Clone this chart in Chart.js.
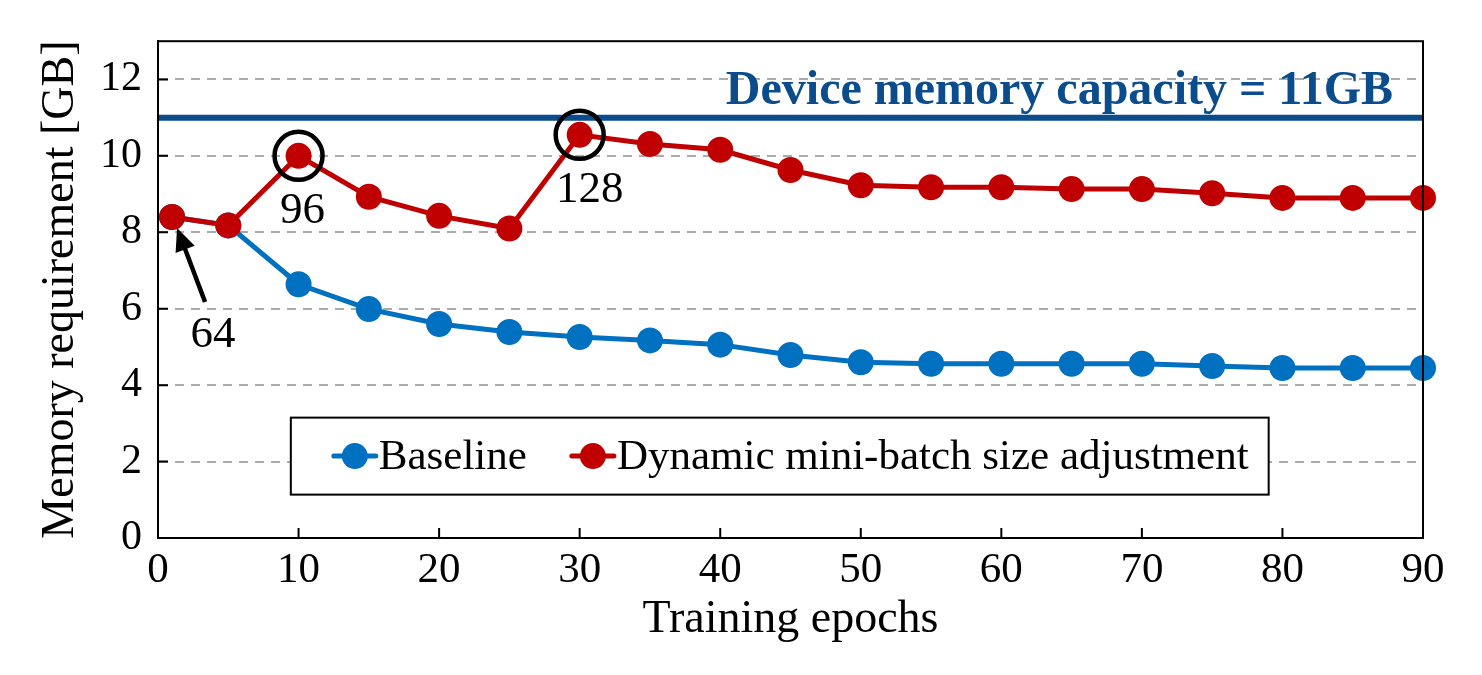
<!DOCTYPE html>
<html>
<head>
<meta charset="utf-8">
<script src="https://cdn.jsdelivr.net/npm/chart.js@4.4.1/dist/chart.umd.min.js"></script>
<style>
  html, body { margin: 0; padding: 0; background: #fff; }
  #wrap { width: 1482px; height: 675px; }
</style>
</head>
<body>
<div id="wrap"><canvas id="memChart" width="1482" height="675"></canvas></div>
<script>
// data
const epochs = [1, 5, 10, 15, 20, 25, 30, 35, 40, 45, 50, 55, 60, 65, 70, 75, 80, 85, 90];
const baseline = [8.4, 8.18, 6.64, 5.99, 5.6, 5.39, 5.26, 5.17, 5.06, 4.79, 4.6, 4.56, 4.56, 4.56, 4.56, 4.5, 4.45, 4.45, 4.45];
const dynamicMb = [8.4, 8.18, 10.0, 8.93, 8.43, 8.1, 10.55, 10.31, 10.16, 9.63, 9.23, 9.18, 9.18, 9.13, 9.13, 9.02, 8.9, 8.9, 8.9];
const capacityGB = 11;
const capacityLabel = 'Device memory capacity = 11GB';
const xTicks = [0, 10, 20, 30, 40, 50, 60, 70, 80, 90];
const yTicks = [0, 2, 4, 6, 8, 10, 12];
const seriesNames = ['Baseline', 'Dynamic mini-batch size adjustment'];
// batch-size callouts: epoch, value, label, kind
const callouts = [
  { x: 10, y: 10.0, text: '96', kind: 'ring' },
  { x: 30, y: 10.55, text: '128', kind: 'ring' },
  { x: 1, y: 8.4, text: '64', kind: 'arrow' }
];

const FONT = '"Liberation Serif", "Times New Roman", serif';
const BLUE = '#0070c0';
const RED = '#c00000';
const NAVY = '#0b4d8c';

const toPts = (ys) => ys.map((v, i) => ({ x: epochs[i], y: v }));

const extras = {
  id: 'extras',
  beforeDraw(chart) {
    const c = chart.ctx;
    c.save();
    c.fillStyle = '#fff';
    c.fillRect(0, 0, chart.width, chart.height);
    c.restore();
  },
  afterDatasetsDraw(chart) {
    const c = chart.ctx;
    const xs = chart.scales.x, ys = chart.scales.y;
    const a = chart.chartArea;
    c.save();
    // capacity label
    c.fillStyle = NAVY;
    c.font = 'bold 48px ' + FONT;
    c.textAlign = 'right';
    c.textBaseline = 'alphabetic';
    c.fillText(capacityLabel, a.right - 30, ys.getPixelForValue(capacityGB) - 14);

    callouts.forEach(o => {
      const px = xs.getPixelForValue(o.x), py = ys.getPixelForValue(o.y);
      c.strokeStyle = '#000';
      c.fillStyle = '#000';
      c.font = '45px ' + FONT;
      c.textAlign = 'center';
      if (o.kind === 'ring') {
        c.lineWidth = 4.5;
        c.beginPath();
        c.arc(px, py, 24, 0, Math.PI * 2);
        c.stroke();
        c.fillText(o.text, px + (o.text.length > 2 ? 10 : 4), py + 67);
      } else {
        const tx = px + 5, ty = py + 11, sx = px + 33, sy = py + 85;
        c.lineWidth = 4.5;
        c.beginPath();
        c.moveTo(sx, sy);
        c.lineTo(tx + 5, ty + 13);
        c.stroke();
        const ang = Math.atan2(ty - sy, tx - sx);
        c.beginPath();
        c.moveTo(tx, ty);
        c.lineTo(tx - 25 * Math.cos(ang - 0.42), ty - 25 * Math.sin(ang - 0.42));
        c.lineTo(tx - 25 * Math.cos(ang + 0.42), ty - 25 * Math.sin(ang + 0.42));
        c.closePath();
        c.fill();
        c.fillText(o.text, px + 41, py + 130);
      }
    });
    c.restore();
  },
  afterDraw(chart) {
    const c = chart.ctx;
    const xs = chart.scales.x, ys = chart.scales.y;
    const a = chart.chartArea;
    c.save();
    // frame + inward ticks
    c.strokeStyle = '#000';
    c.lineWidth = 2;
    c.strokeRect(a.left, a.top, a.right - a.left, a.bottom - a.top);
    c.beginPath();
    xTicks.forEach(v => {
      const p = xs.getPixelForValue(v);
      c.moveTo(p, a.bottom); c.lineTo(p, a.bottom - 10);
    });
    yTicks.forEach(v => {
      const p = ys.getPixelForValue(v);
      c.moveTo(a.left, p); c.lineTo(a.left + 10, p);
    });
    c.stroke();

    // legend box inside the plot
    const w = a.right - a.left;
    const bx = a.left + w * 0.105, bw = w * 0.773;
    const by = ys.getPixelForValue(3.15), bh = 77;
    c.fillStyle = '#fff';
    c.fillRect(bx, by, bw, bh);
    c.lineWidth = 2;
    c.strokeRect(bx, by, bw, bh);
    const cy = by + bh / 2;
    c.font = '43px ' + FONT;
    c.textAlign = 'left';
    c.textBaseline = 'middle';
    const colors = [BLUE, RED];
    let x = bx + 43;
    seriesNames.forEach((name, i) => {
      c.strokeStyle = colors[i];
      c.fillStyle = colors[i];
      c.lineWidth = 5;
      c.lineCap = 'round';
      c.beginPath();
      c.moveTo(x, cy); c.lineTo(x + 42, cy);
      c.stroke();
      c.beginPath();
      c.arc(x + 21, cy, 13, 0, Math.PI * 2);
      c.fill();
      c.fillStyle = '#000';
      c.fillText(name, x + 45, cy + 2);
      x += 45 + c.measureText(name).width + 45;
    });
    c.restore();
  }
};

new Chart(document.getElementById('memChart'), {
  type: 'line',
  data: {
    datasets: [
      {
        label: seriesNames[1], data: toPts(dynamicMb), order: 0, clip: false,
        borderColor: RED, backgroundColor: RED, borderWidth: 5,
        pointRadius: 13, pointBorderWidth: 0, pointBackgroundColor: RED, tension: 0
      },
      {
        label: seriesNames[0], data: toPts(baseline), order: 1, clip: false,
        borderColor: BLUE, backgroundColor: BLUE, borderWidth: 5,
        pointRadius: 13, pointBorderWidth: 0, pointBackgroundColor: BLUE, tension: 0
      },
      {
        label: 'capacity', data: [{ x: xTicks[0], y: capacityGB }, { x: xTicks[xTicks.length - 1], y: capacityGB }],
        order: 2, borderColor: NAVY, borderWidth: 6, pointRadius: 0, tension: 0
      }
    ]
  },
  options: {
    responsive: false,
    animation: false,
    devicePixelRatio: 1,
    layout: { padding: { left: 0, right: 59, top: 36, bottom: 0 } },
    plugins: { legend: { display: false }, tooltip: { enabled: false } },
    scales: {
      x: {
        type: 'linear', min: 0, max: 90,
        afterFit(s) { s.height = 137; },
        afterBuildTicks(s) { s.ticks = xTicks.map(v => ({ value: v })); },
        grid: { display: false, drawTicks: false },
        border: { display: true, color: '#000', width: 2 },
        ticks: { color: '#000', font: { family: FONT, size: 43 }, padding: 7, maxRotation: 0 },
        title: { display: true, text: 'Training epochs', color: '#000', font: { family: FONT, size: 46 }, padding: { top: 0, bottom: 27 } }
      },
      y: {
        min: 0, max: 13,
        afterFit(s) { s.width = 158; },
        afterBuildTicks(s) { s.ticks = yTicks.map(v => ({ value: v })); },
        grid: { color: '#aaaaaa', lineWidth: 2, drawTicks: false },
        border: { display: true, color: '#000', width: 2, dash: [9, 7] },
        ticks: { color: '#000', font: { family: FONT, size: 42 }, padding: 16 },
        title: { display: true, text: 'Memory requirement [GB]', color: '#000', font: { family: FONT, size: 46 }, padding: { top: 33, bottom: 0 } }
      }
    }
  },
  plugins: [extras]
});
</script>
</body>
</html>
